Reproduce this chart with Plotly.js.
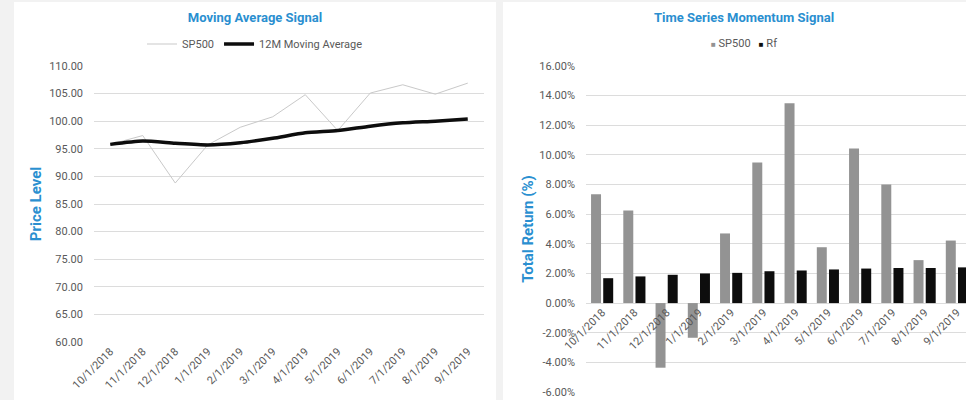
<!DOCTYPE html>
<html>
<head>
<meta charset="utf-8">
<script src="https://cdn.plot.ly/plotly-3.0.1.min.js"></script>
<style>
  html, body { margin: 0; padding: 0; background: #f2f2f2; width: 966px; height: 400px; overflow: hidden; }
  .panel { position: absolute; top: 2px; height: 398px; background: #ffffff; }
  #ma { left: 14px; width: 482px; }
  #tsm { left: 503px; width: 482px; }
</style>
</head>
<body>
<div id="ma" class="panel"></div>
<div id="tsm" class="panel"></div>
<script>
// Month-start dates shared by both charts
const months = ['10/1/2018', '11/1/2018', '12/1/2018', '1/1/2019', '2/1/2019', '3/1/2019',
                '4/1/2019', '5/1/2019', '6/1/2019', '7/1/2019', '8/1/2019', '9/1/2019'];

// Price level of the index and its 12-month moving average
const sp500Price = [95.8, 97.4, 88.8, 95.7, 98.9, 100.8, 104.8, 98.3, 105.1, 106.6, 104.9, 106.9];
const movingAvg  = [95.8, 96.4, 96.0, 95.7, 96.1, 96.9, 97.9, 98.3, 99.1, 99.7, 100.0, 100.4];

// Trailing total returns (%) for the index and the risk-free rate
const sp500Return = [7.35, 6.25, -4.36, -2.34, 4.70, 9.48, 13.49, 3.77, 10.43, 8.00, 2.90, 4.22];
const rfReturn    = [1.68, 1.80, 1.91, 2.00, 2.04, 2.15, 2.20, 2.27, 2.33, 2.37, 2.37, 2.41];

const priceTicks  = [60, 65, 70, 75, 80, 85, 90, 95, 100, 105, 110];
const returnTicks = [-6, -4, -2, 0, 2, 4, 6, 8, 10, 12, 14, 16];

const FONT = 'Roboto, "Open Sans", Arial, sans-serif';
const BLUE = '#2a8fd0';
const GREY_TEXT = '#595959';
const GRID = '#dcdcdc';
const SP_BAR = '#939393';
const RF_BAR = '#0d0d0d';
const H = 398;

function titleCfg(text) {
  return {
    text: '<b>' + text + '</b>',
    font: { family: FONT, size: 13, color: BLUE },
    x: 0.5, xref: 'container', xanchor: 'center',
    y: 1 - 15 / H, yref: 'container', yanchor: 'middle'
  };
}

// ---- Moving Average Signal ----
const maTraces = [
  {
    type: 'scatter', mode: 'lines', name: 'SP500',
    x: months, y: sp500Price,
    line: { color: '#c9c9c9', width: 1 }
  },
  {
    type: 'scatter', mode: 'lines', name: '12M Moving Average',
    x: months, y: movingAvg,
    line: { color: '#0d0d0d', width: 3.5, shape: 'spline', smoothing: 0.6 }
  }
];

const maLayout = {
  width: 482, height: H,
  margin: { l: 80, r: 12, t: 64, b: 58 },
  paper_bgcolor: '#ffffff', plot_bgcolor: '#ffffff',
  font: { family: FONT, size: 11, color: GREY_TEXT },
  title: titleCfg('Moving Average Signal'),
  showlegend: true,
  legend: {
    orientation: 'h',
    x: 0.5, xref: 'container', xanchor: 'center',
    y: 1 - 42 / H, yref: 'container', yanchor: 'middle',
    font: { family: FONT, size: 11, color: GREY_TEXT },
    bgcolor: 'rgba(0,0,0,0)', itemwidth: 30
  },
  xaxis: {
    type: 'category', range: [-0.5, 11.5],
    tickangle: -45, showgrid: false, showline: false, zeroline: false,
    ticks: '', tickfont: { family: FONT, size: 11, color: GREY_TEXT },
    automargin: false
  },
  yaxis: {
    range: [60, 110], tickvals: priceTicks,
    ticktext: priceTicks.map(v => v.toFixed(2)),
    showgrid: true, gridcolor: GRID, gridwidth: 1, zeroline: false,
    ticks: '', ticklabelstandoff: 10,
    tickfont: { family: FONT, size: 11, color: GREY_TEXT },
    title: { text: '<b>Price Level</b>', font: { family: FONT, size: 15, color: BLUE }, standoff: 3 },
    automargin: false
  }
};

Plotly.newPlot('ma', maTraces, maLayout, { displayModeBar: false, staticPlot: true });

// ---- Time Series Momentum Signal ----
const yMin = -6, yMax = 16;
const tsmTraces = [
  {
    type: 'bar', name: 'SP500',
    x: months, y: sp500Return,
    marker: { color: SP_BAR }
  },
  {
    type: 'bar', name: 'Rf',
    x: months, y: rfReturn,
    marker: { color: RF_BAR }
  }
];

// Compact legend with small square keys
function key(color) {
  return '<span style="font-size:8px;color:' + color + '">■</span>';
}
const tsmLegendText = tsmTraces
  .map(t => key(t.marker.color) + ' ' + t.name)
  .join('   ');

const tsmLayout = {
  width: 482, height: H,
  margin: { l: 82.5, r: 12, t: 64, b: 8 },
  paper_bgcolor: '#ffffff', plot_bgcolor: '#ffffff',
  font: { family: FONT, size: 11, color: GREY_TEXT },
  title: titleCfg('Time Series Momentum Signal'),
  showlegend: false,
  annotations: [{
    text: tsmLegendText,
    xref: 'paper', yref: 'paper',
    x: (241 - 82.5) / 387.5, xanchor: 'center',
    y: 1 + (64 - 42) / 325.7, yanchor: 'middle',
    showarrow: false,
    font: { family: FONT, size: 11, color: GREY_TEXT }
  }],
  barmode: 'group', bargap: 0.245, bargroupgap: 0.18,
  xaxis: {
    type: 'category', range: [-0.5, 11.5],
    anchor: 'free', position: (0 - yMin) / (yMax - yMin),
    tickangle: -45, showgrid: false, showline: false, zeroline: false,
    ticks: '', tickfont: { family: FONT, size: 11, color: GREY_TEXT },
    automargin: false
  },
  yaxis: {
    range: [yMin, yMax], tickvals: returnTicks,
    ticktext: returnTicks.map(v => v.toFixed(2) + '%'),
    showgrid: true, gridcolor: GRID, gridwidth: 1,
    zeroline: true, zerolinecolor: GRID, zerolinewidth: 1,
    ticks: '', ticklabelstandoff: 10,
    tickfont: { family: FONT, size: 11, color: GREY_TEXT },
    title: { text: '<b>Total Return (%)</b>', font: { family: FONT, size: 15, color: BLUE }, standoff: 2 },
    automargin: false
  }
};

Plotly.newPlot('tsm', tsmTraces, tsmLayout, { displayModeBar: false, staticPlot: true });
</script>
</body>
</html>
